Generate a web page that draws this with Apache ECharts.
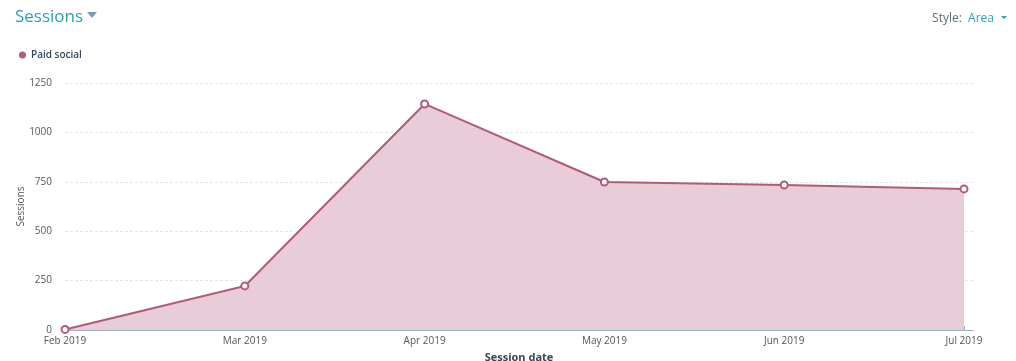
<!DOCTYPE html>
<html><head><meta charset="utf-8">
<script src="https://cdn.jsdelivr.net/npm/echarts@6/dist/echarts.min.js"></script>
<style>html,body{margin:0;padding:0;background:#fff;}#c{width:1016px;height:361px;}</style>
</head><body><div id="c"></div>
<script>
const categories = ['Feb 2019','Mar 2019','Apr 2019','May 2019','Jun 2019','Jul 2019'];
const paidSocial = [3, 223, 1144, 749, 734, 714];
const yTicks = [0, 250, 500, 750, 1000, 1250];
const seriesName = 'Paid social';

const font = "'Open Sans', 'DejaVu Sans', sans-serif";
const idx = categories.map((_, i) => i);
const chart = echarts.init(document.getElementById('c'));
chart.setOption({
  animation: false,
  textStyle: { fontFamily: font },
  title: [{
    text: 'Sessions', left: 10, top: 4,
    textStyle: { fontSize: 17, fontWeight: 'normal', color: '#2e9fb6', fontFamily: font }
  }, {
    text: 'Style:  {a|Area}', right: 17, top: 8,
    textStyle: { fontSize: 12, fontWeight: 'normal', color: '#5a6b7b', fontFamily: font,
      rich: { a: { fontSize: 12, color: '#2e9fb6', fontFamily: font } } }
  }],
  graphic: [
    { type: 'polygon', shape: { points: [[87,12],[97,12],[92,18]] }, style: { fill: '#7c98b6' } },
    { type: 'polygon', shape: { points: [[1001,16],[1007,16],[1004,19]] }, style: { fill: '#2e9fb6' } }
  ],
  legend: {
    left: 14, top: 45, itemWidth: 7, itemHeight: 7, itemGap: 4, icon: 'circle',
    textStyle: { fontSize: 10, fontWeight: 600, color: '#33475b', fontFamily: font },
    data: [{ name: seriesName, itemStyle: { color: '#b05a7c', borderWidth: 0 } }]
  },
  grid: { left: 65, right: 43, top: 83, bottom: 31, containLabel: false, outerBoundsMode: 'none' },
  xAxis: {
    type: 'value', min: 0, max: 5.05, interval: 1,
    name: 'Session date', nameLocation: 'middle', nameGap: 22,
    nameTextStyle: { fontSize: 11, fontWeight: 'bold', color: '#33475b', fontFamily: font },
    axisLine: { show: true, lineStyle: { color: '#99afc4', width: 1 } },
    axisTick: { show: true, inside: true, length: 4, customValues: idx, lineStyle: { color: '#99afc4' } },
    axisLabel: { customValues: idx, formatter: v => categories[Math.round(v)] || '', fontSize: 10, color: '#555', margin: 6, fontFamily: font },
    splitLine: { show: false }
  },
  yAxis: {
    type: 'value', min: 0, max: 1250, interval: 250,
    name: 'Sessions', nameLocation: 'middle', nameGap: 39, nameRotate: 90, nameMoveOverlap: false,
    nameTextStyle: { fontSize: 10, color: '#555', fontFamily: font },
    axisLine: { show: false }, axisTick: { show: false },
    axisLabel: { fontSize: 10, color: '#555', margin: 13, fontFamily: font,
      formatter: v => yTicks.includes(v) ? String(v) : '' },
    splitLine: { show: true, lineStyle: { color: '#e3e6ea', type: [3, 2], width: 1 } }
  },
  series: [{
    name: seriesName, type: 'line',
    data: paidSocial.map((v, i) => [i, v]),
    symbol: 'circle', symbolSize: 7, showAllSymbol: true,
    itemStyle: { color: '#fff', borderColor: '#b05a7c', borderWidth: 2 },
    lineStyle: { color: '#b05a7c', width: 2 },
    areaStyle: { color: '#e8cdd8', opacity: 1 },
    z: 3
  }]
});
</script></body></html>
